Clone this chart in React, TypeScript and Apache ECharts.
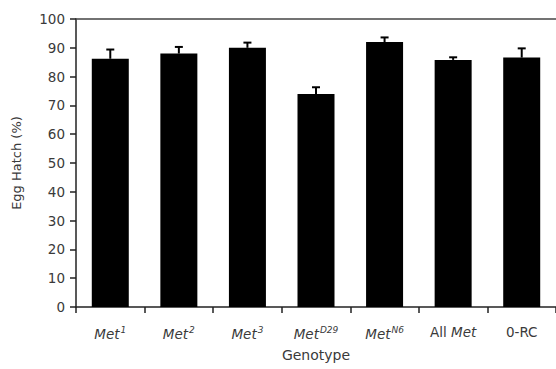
import React, { useEffect, useRef } from "react";
import * as echarts from "echarts";

const categories = ["Met1", "Met2", "Met3", "MetD29", "MetN6", "All Met", "0-RC"];
const labelPrefix = ["", "", "", "", "", "All ", "0-RC"];
const labelItalic = ["Met", "Met", "Met", "Met", "Met", "Met", ""];
const labelSup = ["1", "2", "3", "D29", "N6", "", ""];
const hatchValues = [86.2, 88.0, 90.0, 74.0, 92.0, 85.8, 86.6];
const hatchErrors = [3.2, 2.3, 1.8, 2.3, 1.6, 0.9, 3.2];
const yTicks = [0, 10, 20, 30, 40, 50, 60, 70, 80, 90, 100];

const FONT = "DejaVu Sans";
const TEXT = "#3a3a3a";

export default function App() {
  const ref = useRef<HTMLDivElement>(null);
  useEffect(() => {
    if (!ref.current) return;
    const chart = echarts.init(ref.current, undefined, { renderer: "svg" });
    const errData = categories.map((c, i) => [i, hatchValues[i], hatchValues[i] + hatchErrors[i]]);
    chart.setOption({
      animation: false,
      grid: { left: 76, top: 19, right: 0, bottom: 62 },
      xAxis: [
        {
          type: "category",
          data: categories,
          position: "bottom",
          boundaryGap: true,
          axisLine: { lineStyle: { color: "#222", width: 1.5 } },
          axisTick: { show: true, interval: 0, length: 6, lineStyle: { color: "#222", width: 1.5 } },
          axisLabel: {
            interval: 0,
            margin: 18,
            color: TEXT,
            fontFamily: FONT,
            fontSize: 13.5,
            formatter: (_v: string, i: number) => {
              let s = "";
              if (labelPrefix[i]) s += "{n|" + labelPrefix[i] + "}";
              if (labelItalic[i]) s += "{i|" + labelItalic[i] + "}";
              if (labelSup[i]) s += "{s|" + labelSup[i] + "}";
              return s;
            },
            rich: {
              n: { fontFamily: FONT, fontSize: 13.5, color: TEXT },
              i: { fontFamily: FONT, fontSize: 13.5, fontStyle: "italic", color: TEXT },
              s: { fontFamily: FONT, fontSize: 9, fontStyle: "italic", color: TEXT, padding: [0, 0, 8, 1] },
            },
          },
          name: "Genotype",
          nameLocation: "middle",
          nameGap: 41,
          nameTextStyle: { color: TEXT, fontFamily: FONT, fontSize: 14 },
        },
        {
          type: "category",
          data: categories,
          position: "top",
          axisLine: { lineStyle: { color: "#444", width: 1.5 } },
          axisTick: { show: false },
          axisLabel: { show: false },
        },
      ],
      yAxis: {
        type: "value",
        min: 0,
        max: 100,
        interval: 10,
        axisLine: { show: true, lineStyle: { color: "#222", width: 1.5 } },
        axisTick: { show: true, length: 6, lineStyle: { color: "#222", width: 1.5 } },
        splitLine: { show: false },
        axisLabel: {
          color: TEXT,
          fontFamily: FONT,
          fontSize: 13.5,
          margin: 11,
          formatter: (v: number) => (yTicks.includes(v) ? String(v) : ""),
        },
        name: "Egg Hatch (%)",
        nameLocation: "middle",
        nameGap: 53,
        nameTextStyle: { color: TEXT, fontFamily: FONT, fontSize: 13 },
      },
      series: [
        {
          type: "bar",
          data: hatchValues,
          barWidth: 37,
          itemStyle: { color: "#000" },
          z: 2,
        },
        {
          type: "custom",
          data: errData,
          z: 3,
          renderItem: (_params: any, api: any) => {
            const i = api.value(0);
            const lo = api.coord([i, api.value(1)]);
            const hi = api.coord([i, api.value(2)]);
            const cap = 4;
            return {
              type: "group",
              children: [
                {
                  type: "line",
                  shape: { x1: lo[0], y1: lo[1], x2: hi[0], y2: hi[1] },
                  style: { stroke: "#000", lineWidth: 2 },
                },
                {
                  type: "line",
                  shape: { x1: hi[0] - cap, y1: hi[1], x2: hi[0] + cap, y2: hi[1] },
                  style: { stroke: "#000", lineWidth: 2 },
                },
              ],
            };
          },
        },
      ],
    });
    return () => chart.dispose();
  }, []);
  return (
    <div
      ref={ref}
      style={{ position: "absolute", left: 0, top: 0, width: 556, height: 369, background: "#fff" }}
    />
  );
}
